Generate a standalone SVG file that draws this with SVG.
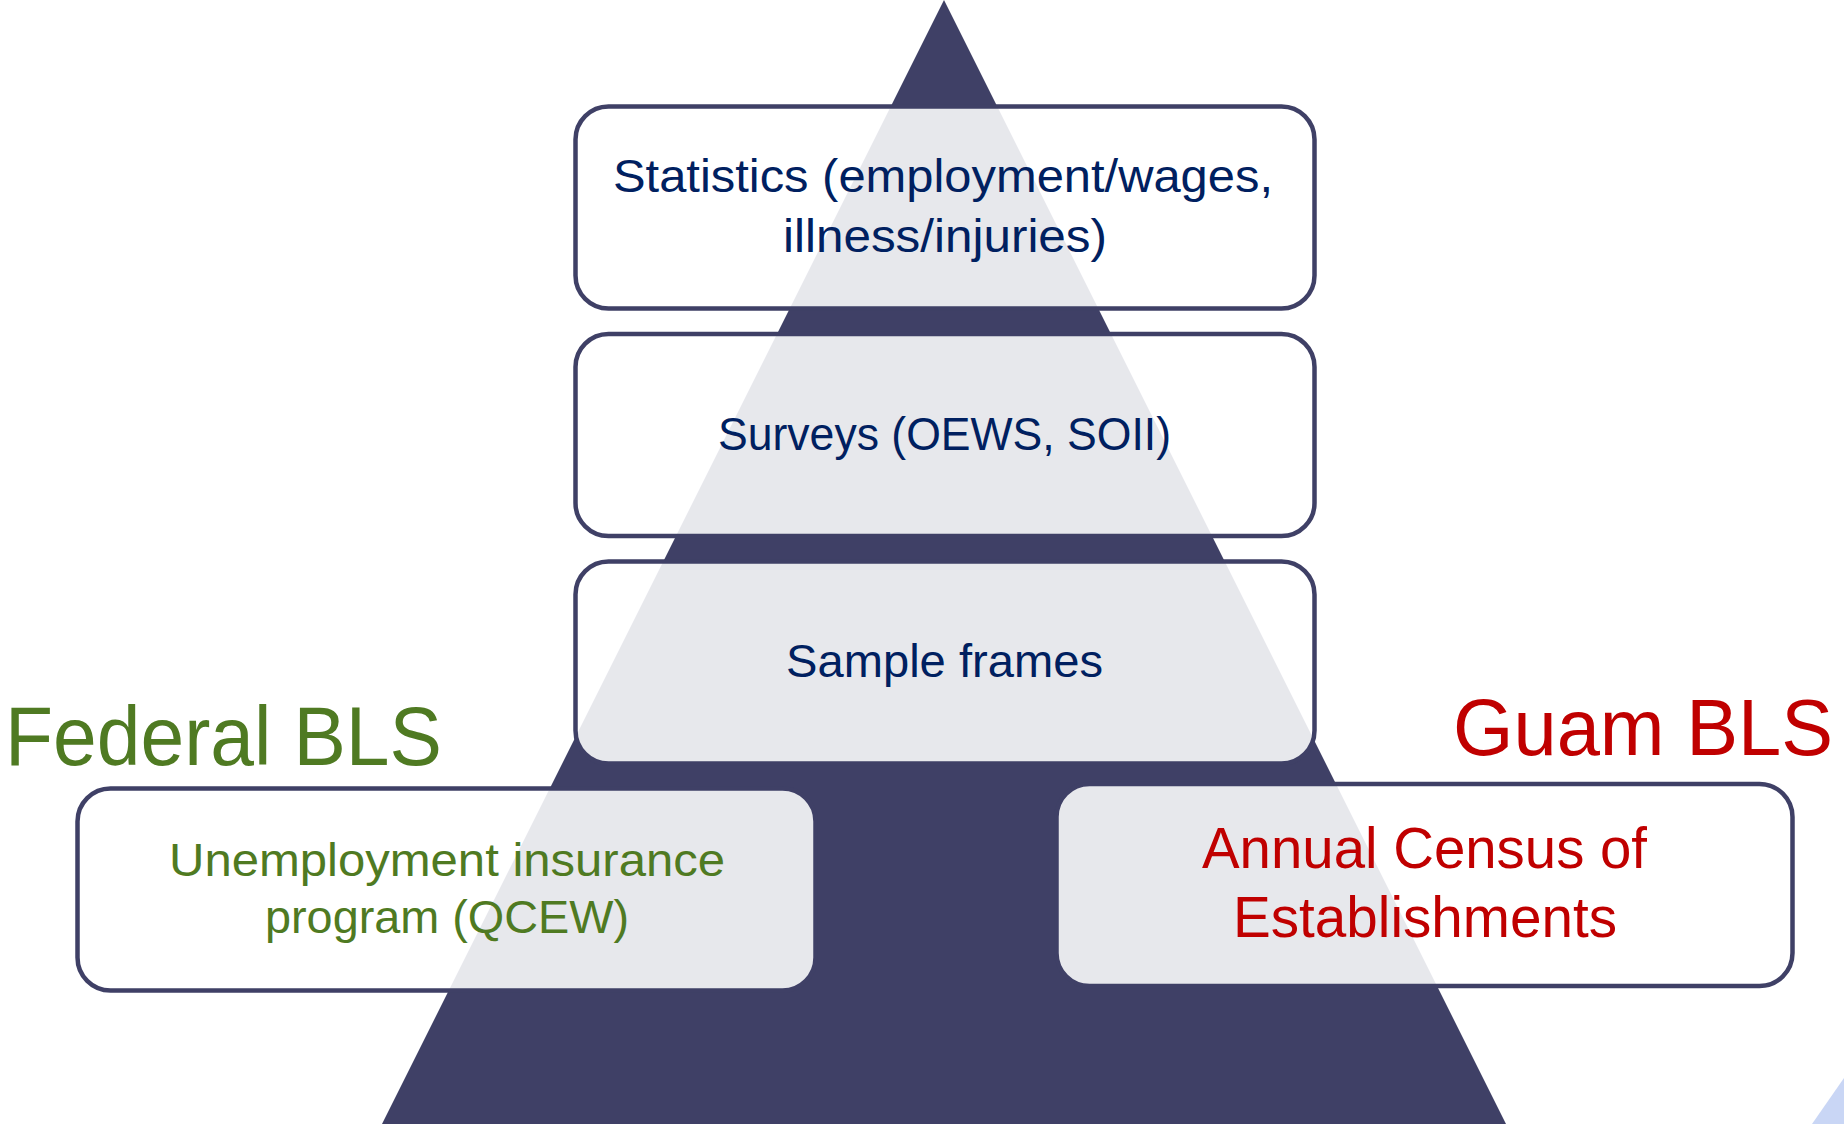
<svg xmlns="http://www.w3.org/2000/svg" width="1844" height="1124" viewBox="0 0 1844 1124">
<style>
.box{fill:#ffffff;fill-opacity:0.88;stroke:#3f4066;stroke-width:4.5}
.t{font-family:"Liberation Sans",Arial,sans-serif;font-size:46px;fill:#002060}
.g{font-family:"Liberation Sans",Arial,sans-serif;fill:#4f7a22}
.r{font-family:"Liberation Sans",Arial,sans-serif;fill:#c00000}
</style>
<rect width="1844" height="1124" fill="#ffffff"/>
<g id="pyramid">
<polygon points="944,0 382,1124 1506,1124" fill="#3f4066"/>
</g>
<polygon points="1812,1124 1844,1078 1844,1124" fill="#c9d6f5"/>
<g id="connectors"></g>
<g id="statistics">
<rect class="box" x="575.5" y="106.5" width="739" height="202" rx="33"/>
<text class="t" x="613" y="192" textLength="660" lengthAdjust="spacingAndGlyphs">Statistics (employment/wages,</text>
<text class="t" x="783" y="252" textLength="324" lengthAdjust="spacingAndGlyphs">illness/injuries)</text>
</g>
<g id="surveys">
<rect class="box" x="575.5" y="334" width="739" height="202" rx="33"/>
<text class="t" x="718" y="450" textLength="453" lengthAdjust="spacingAndGlyphs">Surveys (OEWS, SOII)</text>
</g>
<g id="sample-frames">
<rect class="box" x="575.5" y="561.5" width="739" height="202" rx="33"/>
<text class="t" x="786" y="677" textLength="317" lengthAdjust="spacingAndGlyphs">Sample frames</text>
</g>
<g id="federal-bls">
<text class="g" x="5" y="765" font-size="84" textLength="437" lengthAdjust="spacingAndGlyphs">Federal BLS</text>
</g>
<g id="guam-bls">
<text class="r" x="1453" y="755" font-size="79" textLength="380" lengthAdjust="spacingAndGlyphs">Guam BLS</text>
</g>
<g id="unemployment-insurance">
<rect class="box" x="77.5" y="788.5" width="738" height="202" rx="33"/>
<text class="g" x="169" y="876" font-size="46" textLength="556" lengthAdjust="spacingAndGlyphs">Unemployment insurance</text>
<text class="g" x="265" y="933" font-size="46" textLength="364" lengthAdjust="spacingAndGlyphs">program (QCEW)</text>
</g>
<g id="annual-census">
<rect class="box" x="1056.5" y="784" width="736" height="202" rx="33"/>
<text class="r" x="1202" y="868" font-size="58" textLength="445" lengthAdjust="spacingAndGlyphs">Annual Census of</text>
<text class="r" x="1233" y="937" font-size="58" textLength="384" lengthAdjust="spacingAndGlyphs">Establishments</text>
</g>
</svg>
